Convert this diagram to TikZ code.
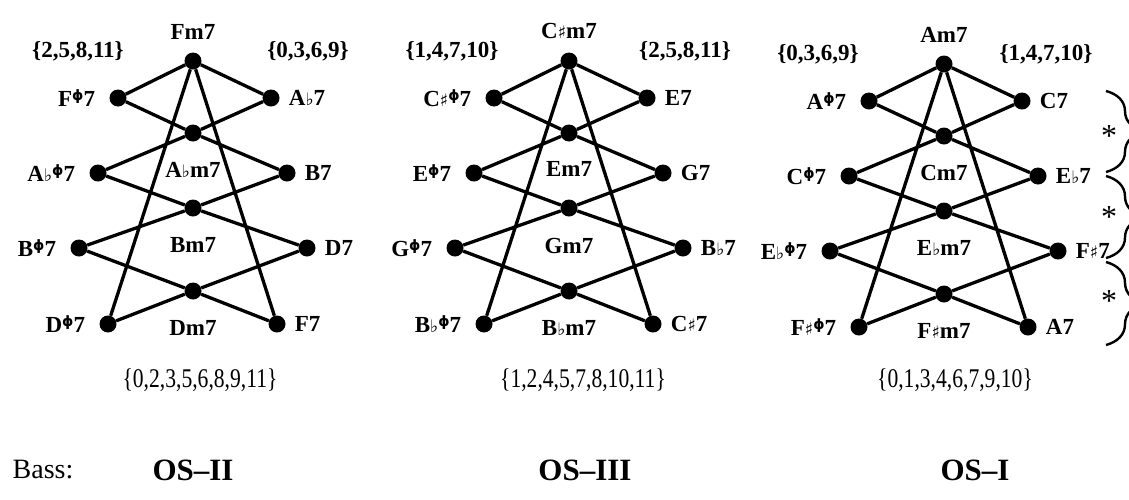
\documentclass[tikz,border=0pt]{standalone}
\usepackage{fontspec}
\setmainfont{Liberation Serif}
\newfontfamily\symf[Scale=0.75]{DejaVu Sans}
\newfontfamily\symsup[Scale=0.62]{DejaVu Sans}
\usetikzlibrary{decorations.pathreplacing,positioning,calc}
\newcommand\fl{{\symf ♭}}
\newcommand\shp{{\symf ♯}}
\newcommand\hd{\raisebox{0.55ex}{\symsup ϕ}}
\newcommand\narrow[1]{\scalebox{0.8}[1]{#1}}
\newcommand\chordgraph[3]{%
  \node[dot] (#1t)  at (#2,{61+#3}) {};
  \node[dot] (#1l1) at ({#2-75},{98+#3}) {};
  \node[dot] (#1r1) at ({#2+78},{98+#3}) {};
  \node[dot] (#1c1) at (#2,{133+#3}) {};
  \node[dot] (#1l2) at ({#2-95},{173+#3}) {};
  \node[dot] (#1r2) at ({#2+94},{173+#3}) {};
  \node[dot] (#1c2) at (#2,{208+#3}) {};
  \node[dot] (#1l3) at ({#2-114},{248+#3}) {};
  \node[dot] (#1r3) at ({#2+114},{248+#3}) {};
  \node[dot] (#1c3) at (#2,{291+#3}) {};
  \node[dot] (#1l4) at ({#2-85},{324+#3}) {};
  \node[dot] (#1r4) at ({#2+84},{324+#3}) {};
  \draw[edge] (#1t) -- (#1l1) (#1t) -- (#1r1) (#1t) -- (#1l4) (#1t) -- (#1r4)
    (#1l1) -- (#1c1) (#1c1) -- (#1r2) (#1r1) -- (#1c1) (#1c1) -- (#1l2)
    (#1l2) -- (#1c2) (#1c2) -- (#1r3) (#1r2) -- (#1c2) (#1c2) -- (#1l3)
    (#1l3) -- (#1c3) (#1c3) -- (#1r4) (#1r3) -- (#1c3) (#1c3) -- (#1l4);
}
\begin{document}
\begin{tikzpicture}[x=1pt,y=-1pt,
  dot/.style={circle,fill=black,inner sep=0pt,minimum size=17pt},
  edge/.style={line width=3.3pt},
  chord/.style={font=\fontsize{23}{23}\selectfont\bfseries,inner sep=0pt},
  settop/.style={font=\fontsize{23}{23}\selectfont\bfseries,inner sep=0pt},
  setbot/.style={font=\fontsize{27}{27}\selectfont,inner sep=0pt},
  basslab/.style={font=\fontsize{28}{28}\selectfont,inner sep=0pt},
  oslab/.style={font=\fontsize{31}{31}\selectfont\bfseries,inner sep=0pt},
  bracestyle/.style={line width=2.4pt,decorate,decoration={brace,amplitude=38pt,aspect=0.5}},
  star/.style={font=\fontsize{32}{32}\selectfont,inner sep=0pt},
  lgap/.style={left=14pt of #1},
  rgap/.style={right=9pt of #1}]
\useasboundingbox (0,0) rectangle (1129,499);
\fill[white] (0,0) rectangle (1129,499);

% ---------- graph 1 (OS-II)
\chordgraph{a}{193}{0}
\node[chord,above=13pt of at] (atl) {Fm7};
\node[chord,lgap=al1] (al1l) {F\hd7};
\node[chord,rgap=ar1] (ar1l) {A\fl7};
\node[chord,below=20pt of ac1] (ac1l) {A\fl m7};
\node[chord,lgap=al2] (al2l) {A\fl\hd7};
\node[chord,rgap=ar2] (ar2l) {B7};
\node[chord,below=21pt of ac2] (ac2l) {Bm7};
\node[chord,lgap=al3] (al3l) {B\hd7};
\node[chord,rgap=ar3] (ar3l) {D7};
\node[chord,lgap=al4] (al4l) {D\hd7};
\node[chord,rgap=ar4] (ar4l) {F7};
\node[chord] (ac3l) at (193,328) {Dm7};
\node[settop] (asl) at (78,51) {\{2,5,8,11\}};
\node[settop] (asr) at (308,51) {\{0,3,6,9\}};
\node[setbot] (asb) at (200,380) {\narrow{\{0,2,3,5,6,8,9,11\}}};

% ---------- graph 2 (OS-III)
\chordgraph{b}{569}{0}
\node[chord,above=13pt of bt] (btl) {C\shp m7};
\node[chord,lgap=bl1] (bl1l) {C\shp\hd7};
\node[chord,rgap=br1] (br1l) {E7};
\node[chord,below=20pt of bc1] (bc1l) {Em7};
\node[chord,lgap=bl2] (bl2l) {E\hd7};
\node[chord,rgap=br2] (br2l) {G7};
\node[chord,below=21pt of bc2] (bc2l) {Gm7};
\node[chord,lgap=bl3] (bl3l) {G\hd7};
\node[chord,rgap=br3] (br3l) {B\fl7};
\node[chord,lgap=bl4] (bl4l) {B\fl\hd7};
\node[chord,rgap=br4] (br4l) {C\shp7};
\node[chord] (bc3l) at (569,328) {B\fl m7};
\node[settop] (bsl) at (452,51) {\{1,4,7,10\}};
\node[settop] (bsr) at (685,51) {\{2,5,8,11\}};
\node[setbot] (bsb) at (583,380) {\narrow{\{1,2,4,5,7,8,10,11\}}};

% ---------- graph 3 (OS-I)
\chordgraph{c}{944}{3}
\node[chord,above=13pt of ct] (ctl) {Am7};
\node[chord,lgap=cl1] (cl1l) {A\hd7};
\node[chord,rgap=cr1] (cr1l) {C7};
\node[chord,below=20pt of cc1] (cc1l) {Cm7};
\node[chord,lgap=cl2] (cl2l) {C\hd7};
\node[chord,rgap=cr2] (cr2l) {E\fl7};
\node[chord,below=21pt of cc2] (cc2l) {E\fl m7};
\node[chord,lgap=cl3] (cl3l) {E\fl\hd7};
\node[chord,rgap=cr3] (cr3l) {F\shp7};
\node[chord,lgap=cl4] (cl4l) {F\shp\hd7};
\node[chord,rgap=cr4] (cr4l) {A7};
\node[chord] (cc3l) at (944,331) {F\shp m7};
\node[settop] (csl) at (818,54) {\{0,3,6,9\}};
\node[settop] (csr) at (1046,54) {\{1,4,7,10\}};
\node[setbot] (csb) at (955,380) {\narrow{\{0,1,3,4,6,7,9,10\}}};

% ---------- bass row
\node[basslab] (bass) at (43,470) {Bass:};
\node[oslab] (os2) at (193,470) {OS–II};
\node[oslab] (os3) at (585,470) {OS–III};
\node[oslab] (os1) at (975,470) {OS–I};

% ---------- braces and stars on the right
\begin{scope}
  \clip (0,0) rectangle (1129,499);
  \coordinate (b1s) at (1106,91);  \coordinate (b1e) at (1106,172);
  \coordinate (b2s) at (1106,176); \coordinate (b2e) at (1106,258);
  \coordinate (b3s) at (1106,262); \coordinate (b3e) at (1106,345);
  \draw[bracestyle] (b1s) -- (b1e);
  \draw[bracestyle] (b2s) -- (b2e);
  \draw[bracestyle] (b3s) -- (b3e);
\end{scope}
\node[star] (s1) at (1109,136) {*};
\node[star] (s2) at (1109,217) {*};
\node[star] (s3) at (1109,301) {*};
\end{tikzpicture}
\end{document}
